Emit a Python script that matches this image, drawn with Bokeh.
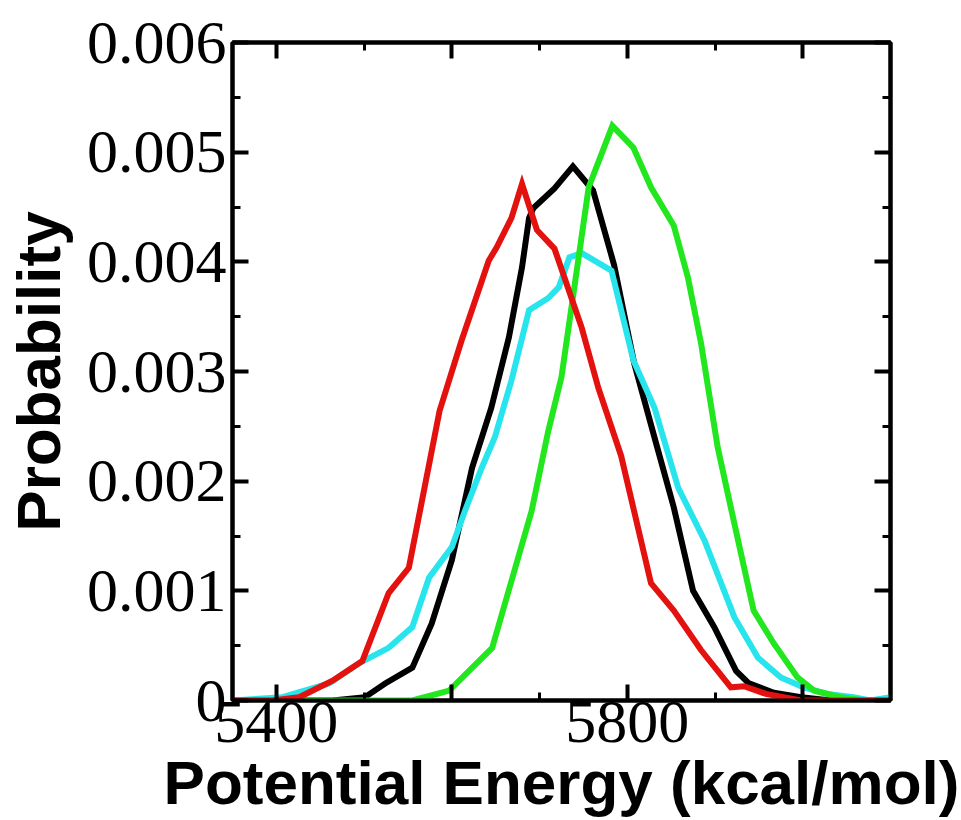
from bokeh.plotting import figure
from bokeh.models import LinearAxis, FixedTicker, Range1d
from bokeh.embed import file_html
from bokeh.resources import INLINE

# ---- data ----
energy_black = [5350, 5430, 5464, 5501, 5524, 5555, 5577, 5600, 5623, 5645, 5665,
                5680, 5688, 5693, 5717, 5738, 5761, 5785, 5808, 5833, 5853, 5875,
                5899, 5924, 5938, 5967, 5998, 6032, 6100]
prob_black = [0.0, 0.0, 0.0, 0.00003, 0.000155, 0.00030, 0.00070, 0.00128, 0.00212,
              0.00267, 0.00331, 0.00395, 0.00440, 0.00449, 0.00467, 0.00487, 0.00465,
              0.00397, 0.00307, 0.00234, 0.00176, 0.00100, 0.00067, 0.00027, 0.00016,
              0.00007, 0.00003, 0.0, 0.0]

energy_green = [5350, 5555, 5597, 5646, 5691, 5710, 5725, 5756, 5783, 5807, 5827,
                5853, 5869, 5884, 5903, 5918, 5944, 5967, 5994, 6013, 6043, 6070, 6100]
prob_green = [0.0, 0.0, 0.00009, 0.00048, 0.00173, 0.00246, 0.00295, 0.00468, 0.00524,
              0.00504, 0.00468, 0.00433, 0.00386, 0.00326, 0.00231, 0.00176, 0.00082,
              0.00052, 0.00021, 0.00009, 0.00003, 0.0, 0.0]

energy_cyan = [5350, 5407, 5460, 5494, 5528, 5555, 5574, 5600, 5615, 5634, 5649,
               5668, 5688, 5710, 5722, 5734, 5748, 5782, 5807, 5831, 5858, 5888,
               5922, 5949, 5975, 6001, 6028, 6058, 6077, 6100]
prob_cyan = [0.0, 0.00003, 0.000155, 0.00034, 0.00048, 0.00067, 0.00112, 0.00140,
             0.00173, 0.00212, 0.00240, 0.00292, 0.00356, 0.00367, 0.00377, 0.00404,
             0.00408, 0.00392, 0.00310, 0.00267, 0.00194, 0.00146, 0.00076, 0.00039,
             0.00021, 0.00012, 0.00006, 0.00003, 0.0, 0.00003]

energy_red = [5350, 5395, 5426, 5464, 5498, 5528, 5551, 5586, 5611, 5642, 5651, 5668,
              5680, 5697, 5717, 5748, 5767, 5793, 5827, 5853, 5884, 5918, 5933, 5958,
              5998, 6100]
prob_red = [0.0, 0.0, 0.00003, 0.00018, 0.00036, 0.00098, 0.00121, 0.00264, 0.00328,
            0.00401, 0.00413, 0.00440, 0.00471, 0.00429, 0.00412, 0.00340, 0.00285,
            0.00223, 0.00107, 0.00082, 0.00046, 0.00012, 0.00013, 0.00006, 0.0, 0.0]

x_limits = [5350, 6100]
y_limits = [0.0, 0.006]
x_major_ticks = [5400, 5600, 5800, 6000]
x_minor_ticks = [5500, 5700, 5900]
x_tick_labels = ["5400", "", "5800", ""]
y_major_ticks = [0.0, 0.001, 0.002, 0.003, 0.004, 0.005, 0.006]
y_minor_ticks = [0.0005, 0.0015, 0.0025, 0.0035, 0.0045, 0.0055]
y_tick_labels = ["0", "0.001", "0.002", "0.003", "0.004", "0.005", "0.006"]

x_title = "Potential Energy (kcal/mol)"
y_title = "Probability"

series = [
    (energy_black, prob_black, "#000000"),
    (energy_cyan, prob_cyan, "#28e4ec"),
    (energy_green, prob_green, "#22e61e"),
    (energy_red, prob_red, "#e4120e"),
]

p = figure(width=961, height=820, output_backend="svg", toolbar_location=None,
           x_range=Range1d(*x_limits), y_range=Range1d(*y_limits),
           min_border_left=230, min_border_right=71, min_border_top=42,
           min_border_bottom=120)
p.xgrid.visible = False
p.ygrid.visible = False
p.outline_line_color = "black"
p.outline_line_width = 4
p.background_fill_color = "white"
p.border_fill_color = "white"

for xs, ys, c in series:
    p.line(xs, ys, line_color=c, line_width=6, line_join="miter")

xt = FixedTicker(ticks=x_major_ticks, minor_ticks=x_minor_ticks)
yt = FixedTicker(ticks=y_major_ticks, minor_ticks=y_minor_ticks)
x_over = dict(zip(x_major_ticks, x_tick_labels))
y_over = dict(zip(y_major_ticks, y_tick_labels))

top_ax = LinearAxis(ticker=xt)
right_ax = LinearAxis(ticker=yt)
p.add_layout(top_ax, "above")
p.add_layout(right_ax, "right")

def style(ax, show_labels):
    ax.axis_line_color = "black"
    ax.axis_line_width = 4
    ax.major_tick_in = 16
    ax.major_tick_out = 0
    ax.minor_tick_in = 8
    ax.minor_tick_out = 0
    ax.major_tick_line_width = 4
    ax.minor_tick_line_width = 3
    ax.major_tick_line_color = "black"
    ax.minor_tick_line_color = "black"
    ax.major_label_text_color = "black"
    ax.axis_label_text_color = "black"
    if not show_labels:
        ax.major_label_text_font_size = "0px"
        ax.major_label_standoff = 0

for ax in p.xaxis:
    if ax is top_ax:
        style(ax, False)
        ax.major_label_overrides = {t: "" for t in x_major_ticks}
    else:
        style(ax, True)
        ax.ticker = xt
        ax.major_label_overrides = x_over
        ax.major_label_text_font = "Liberation Serif"
        ax.major_label_text_font_size = "62px"
        ax.major_label_standoff = 1
        ax.axis_label = x_title
        ax.axis_label_text_font = "Liberation Sans"
        ax.axis_label_text_font_style = "bold"
        ax.axis_label_text_font_size = "62px"
        ax.axis_label_standoff = 3

for ax in p.yaxis:
    if ax is right_ax:
        style(ax, False)
        ax.major_label_overrides = {t: "" for t in y_major_ticks}
    else:
        style(ax, True)
        ax.ticker = yt
        ax.major_label_overrides = y_over
        ax.major_label_text_font = "Liberation Serif"
        ax.major_label_text_font_size = "62px"
        ax.major_label_standoff = 6
        ax.axis_label = y_title
        ax.axis_label_text_font = "Liberation Sans"
        ax.axis_label_text_font_style = "bold"
        ax.axis_label_text_font_size = "62px"
        ax.axis_label_standoff = 11

open("out.html", "w").write(file_html(p, INLINE))
